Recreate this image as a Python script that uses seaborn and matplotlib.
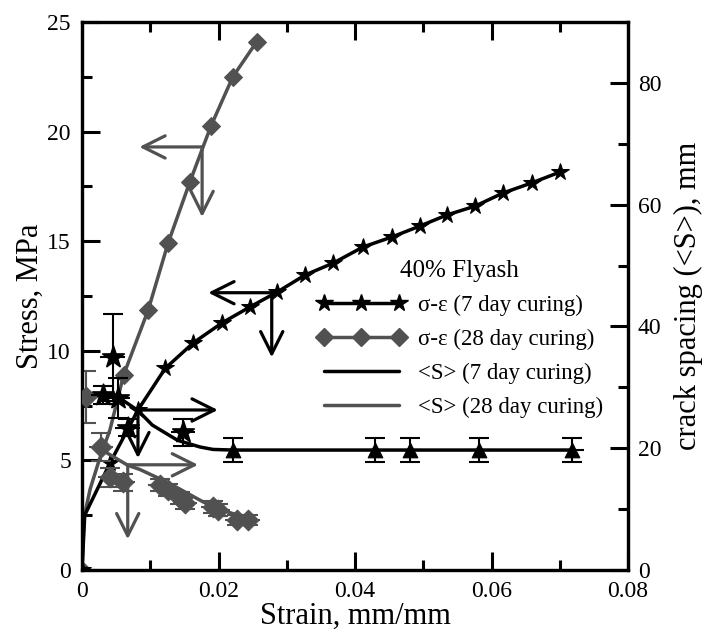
import matplotlib
matplotlib.use("Agg")
import matplotlib.pyplot as plt
import seaborn as sns
from matplotlib.lines import Line2D
from matplotlib.ticker import MultipleLocator

# Stress-strain response, 7 day curing (MPa vs mm/mm)
strain_7d = [0.0, 0.0004, 0.0041, 0.0082, 0.0122, 0.0163, 0.0205, 0.0246, 0.0286,
             0.0327, 0.0368, 0.0412, 0.0454, 0.0495, 0.0535, 0.0576, 0.0617, 0.0659, 0.0700]
stress_7d = [0.0, 2.5, 4.88, 7.3, 9.2, 10.36, 11.27, 12.0, 12.68,
             13.46, 14.0, 14.74, 15.19, 15.69, 16.2, 16.6, 17.2, 17.66, 18.15]

# Stress-strain response, 28 day curing
strain_28d = [0.0, 0.0003, 0.0012, 0.0025, 0.0041, 0.0061, 0.0097, 0.0126, 0.0158,
              0.0189, 0.0221, 0.0256]
stress_28d = [0.0, 2.4, 3.7, 5.0, 6.4, 8.9, 11.86, 14.9, 17.7, 20.26, 22.5, 24.1]

# Measured crack spacing <S> (mm), 7 day curing
spacing_7d_strain = [0.0031, 0.0045, 0.0053, 0.0067, 0.0148, 0.0221, 0.0429, 0.0481, 0.0582, 0.0718]
spacing_7d = [28.7, 34.9, 28.2, 23.4, 22.6, 19.7, 19.7, 19.7, 19.7, 19.7]
spacing_7d_err = [1.5, 7.1, 3.3, 1.4, 2.2, 1.9, 1.9, 1.9, 1.9, 1.9]
spacing_7d_xerr = [0.0018, 0.0018, 0.0018, 0.0018, 0.0018, 0.0018, 0.0018, 0.0018, 0.0018, 0.0018]

# Measured crack spacing <S> (mm), 28 day curing
spacing_28d_strain = [0.0006, 0.0028, 0.0041, 0.0060, 0.0114, 0.0126, 0.0144, 0.0151,
                      0.0192, 0.0199, 0.0227, 0.0243]
spacing_28d = [28.4, 20.2, 15.2, 14.4, 13.9, 13.1, 11.8, 11.0, 10.3, 9.8, 8.2, 8.2]
spacing_28d_err = [4.3, 2.3, 1.5, 1.4, 1.0, 1.0, 1.0, 1.0, 1.0, 1.0, 0.8, 0.8]
spacing_28d_xerr = [0.0018, 0.0018, 0.0018, 0.0018, 0.0018, 0.0018, 0.0018, 0.0018,
                    0.0018, 0.0018, 0.0018, 0.0018]

# Smoothed crack spacing evolution
trend_7d_strain = [0.0045, 0.0082, 0.0103, 0.0140, 0.0173, 0.0192, 0.0221, 0.0718]
trend_7d = [29.0, 26.2, 23.8, 21.3, 20.2, 19.8, 19.7, 19.7]
trend_28d_strain = [0.0029, 0.0037, 0.0067, 0.0085, 0.0125, 0.0192, 0.0251]
trend_28d = [20.5, 19.2, 17.2, 16.5, 14.4, 10.3, 8.2]

# Axis pointer arrows: (start strain, start stress, end strain, end stress)
arrows_7d = [(0.0082, 7.3, 0.0199, 7.3), (0.0082, 7.3, 0.0082, 5.1),
             (0.0278, 12.65, 0.0185, 12.65), (0.0278, 12.65, 0.0278, 9.7)]
arrows_28d = [(0.0176, 19.3, 0.0084, 19.3), (0.0176, 19.3, 0.0176, 16.1),
              (0.0067, 4.8, 0.0170, 4.8), (0.0067, 4.8, 0.0067, 1.4)]

legend_title = "40% Flyash"
legend_labels = ["σ-ε (7 day curing)", "σ-ε (28 day curing)",
                 "<S> (7 day curing)", "<S> (28 day curing)"]

BLACK = "#000000"
GRAY = "#515151"

sns.set_theme(style="ticks")
plt.rcParams["font.family"] = ["Liberation Serif", "DejaVu Serif"]
plt.rcParams.update({"text.color": BLACK, "axes.labelcolor": BLACK,
                     "xtick.color": BLACK, "ytick.color": BLACK,
                     "axes.edgecolor": BLACK})

fig = plt.figure(figsize=(7.05, 6.36), dpi=100)
ax = fig.add_axes([82 / 705, 66 / 636, 546 / 705, 548 / 636])
ax2 = ax.twinx()

# stress-strain curves on the left axis
sns.lineplot(x=strain_28d, y=stress_28d, ax=ax, sort=False, estimator=None,
             color=GRAY, lw=2.5, marker="D", markersize=9, markeredgecolor=GRAY,
             markevery=[0, 5, 6, 7, 8, 9, 10, 11], zorder=3)
sns.lineplot(x=strain_7d, y=stress_7d, ax=ax, sort=False, estimator=None,
             color=BLACK, lw=2.5, marker="*", markersize=13, markeredgecolor=BLACK,
             markevery=[0] + list(range(2, len(strain_7d))), zorder=4)

# crack spacing on the right axis
sns.lineplot(x=trend_28d_strain, y=trend_28d, ax=ax2, sort=False, estimator=None,
             color=GRAY, lw=2.5, zorder=2)
sns.lineplot(x=trend_7d_strain, y=trend_7d, ax=ax2, sort=False, estimator=None,
             color=BLACK, lw=2.5, zorder=2)

ax2.errorbar(spacing_28d_strain, spacing_28d, yerr=spacing_28d_err, fmt="none",
             ecolor=GRAY, elinewidth=1.5, capsize=7, capthick=1.5, zorder=2)
ax2.errorbar(spacing_28d_strain, spacing_28d, xerr=spacing_28d_xerr, fmt="none",
             ecolor=GRAY, elinewidth=1.5, capsize=0, zorder=2)
sns.scatterplot(x=spacing_28d_strain, y=spacing_28d, ax=ax2, marker="D", s=110,
                color=GRAY, edgecolor=GRAY, zorder=3)

ax2.errorbar(spacing_7d_strain, spacing_7d, yerr=spacing_7d_err, fmt="none",
             ecolor=BLACK, elinewidth=1.5, capsize=7, capthick=1.5, zorder=3)
ax2.errorbar(spacing_7d_strain, spacing_7d, xerr=spacing_7d_xerr, fmt="none",
             ecolor=BLACK, elinewidth=1.5, capsize=0, zorder=3)
early = [i for i, s in enumerate(spacing_7d_strain) if s < 0.02]
late = [i for i, s in enumerate(spacing_7d_strain) if s >= 0.02]
sns.scatterplot(x=[spacing_7d_strain[i] for i in early], y=[spacing_7d[i] for i in early],
                ax=ax2, marker="*", s=260, color=BLACK, edgecolor=BLACK, zorder=4)
sns.scatterplot(x=[spacing_7d_strain[i] for i in late], y=[spacing_7d[i] for i in late],
                ax=ax2, marker="^", s=110, color=BLACK, edgecolor=BLACK, zorder=4)

# pointer arrows
for arrows, col in ((arrows_7d, BLACK), (arrows_28d, GRAY)):
    for x0, y0, x1, y1 in arrows:
        ax.annotate("", xy=(x1, y1), xytext=(x0, y0),
                    arrowprops=dict(arrowstyle="->,head_length=0.8,head_width=0.4",
                                    color=col, lw=2.3, mutation_scale=20,
                                    shrinkA=0, shrinkB=0), zorder=5)

# axes limits and ticks
ax.set_xlim(0, 0.08)
ax.set_ylim(0, 25)
ax2.set_ylim(0, 90)
ax.xaxis.set_minor_locator(MultipleLocator(0.01))
ax.yaxis.set_major_locator(MultipleLocator(5))
ax.yaxis.set_minor_locator(MultipleLocator(2.5))
ax2.yaxis.set_major_locator(MultipleLocator(20))
ax2.yaxis.set_minor_locator(MultipleLocator(10))
ax.set_xticks([0, 0.02, 0.04, 0.06, 0.08])
ax.set_xticklabels(["0", "0.02", "0.04", "0.06", "0.08"])

ax.tick_params(axis="both", which="both", direction="in", width=2.2, colors=BLACK,
               labelsize=17, pad=8, top=True, right=False)
ax.tick_params(which="major", length=13)
ax.tick_params(which="minor", length=7.5)
ax2.tick_params(axis="y", which="both", direction="in", width=2.2, colors=BLACK,
                labelsize=17, pad=7)
ax2.tick_params(which="major", length=13)
ax2.tick_params(which="minor", length=7.5)

for a in (ax, ax2):
    for sp in a.spines.values():
        sp.set_linewidth(2.3)
        sp.set_color(BLACK)
        sp.set_visible(True)

ax.set_xlabel("Strain, mm/mm", fontsize=22, color=BLACK)
ax.set_ylabel("Stress, MPa", fontsize=22, color=BLACK)
ax2.set_ylabel("crack spacing (<S>), mm", fontsize=22, color=BLACK)
ax.xaxis.set_label_coords(0.5, -0.058)
ax.yaxis.set_label_coords(-0.068, 0.5)
ax2.yaxis.set_label_coords(1.084, 0.5)

handles = [
    Line2D([], [], color=BLACK, lw=2.5, marker="*", markersize=13),
    Line2D([], [], color=GRAY, lw=2.5, marker="D", markersize=9),
    Line2D([], [], color=BLACK, lw=2.5),
    Line2D([], [], color=GRAY, lw=2.5),
]
leg = ax2.legend(handles, legend_labels, title=legend_title, loc="upper left",
                 bbox_to_anchor=(0.43, 0.565), frameon=False, fontsize=16.5,
                 title_fontsize=18, numpoints=3, handlelength=3.9, handletextpad=0.5,
                 labelspacing=0.55, borderpad=0, borderaxespad=0)
for t in leg.get_texts():
    t.set_color(BLACK)
leg.get_title().set_color(BLACK)

fig.savefig("out.png", dpi=100)
